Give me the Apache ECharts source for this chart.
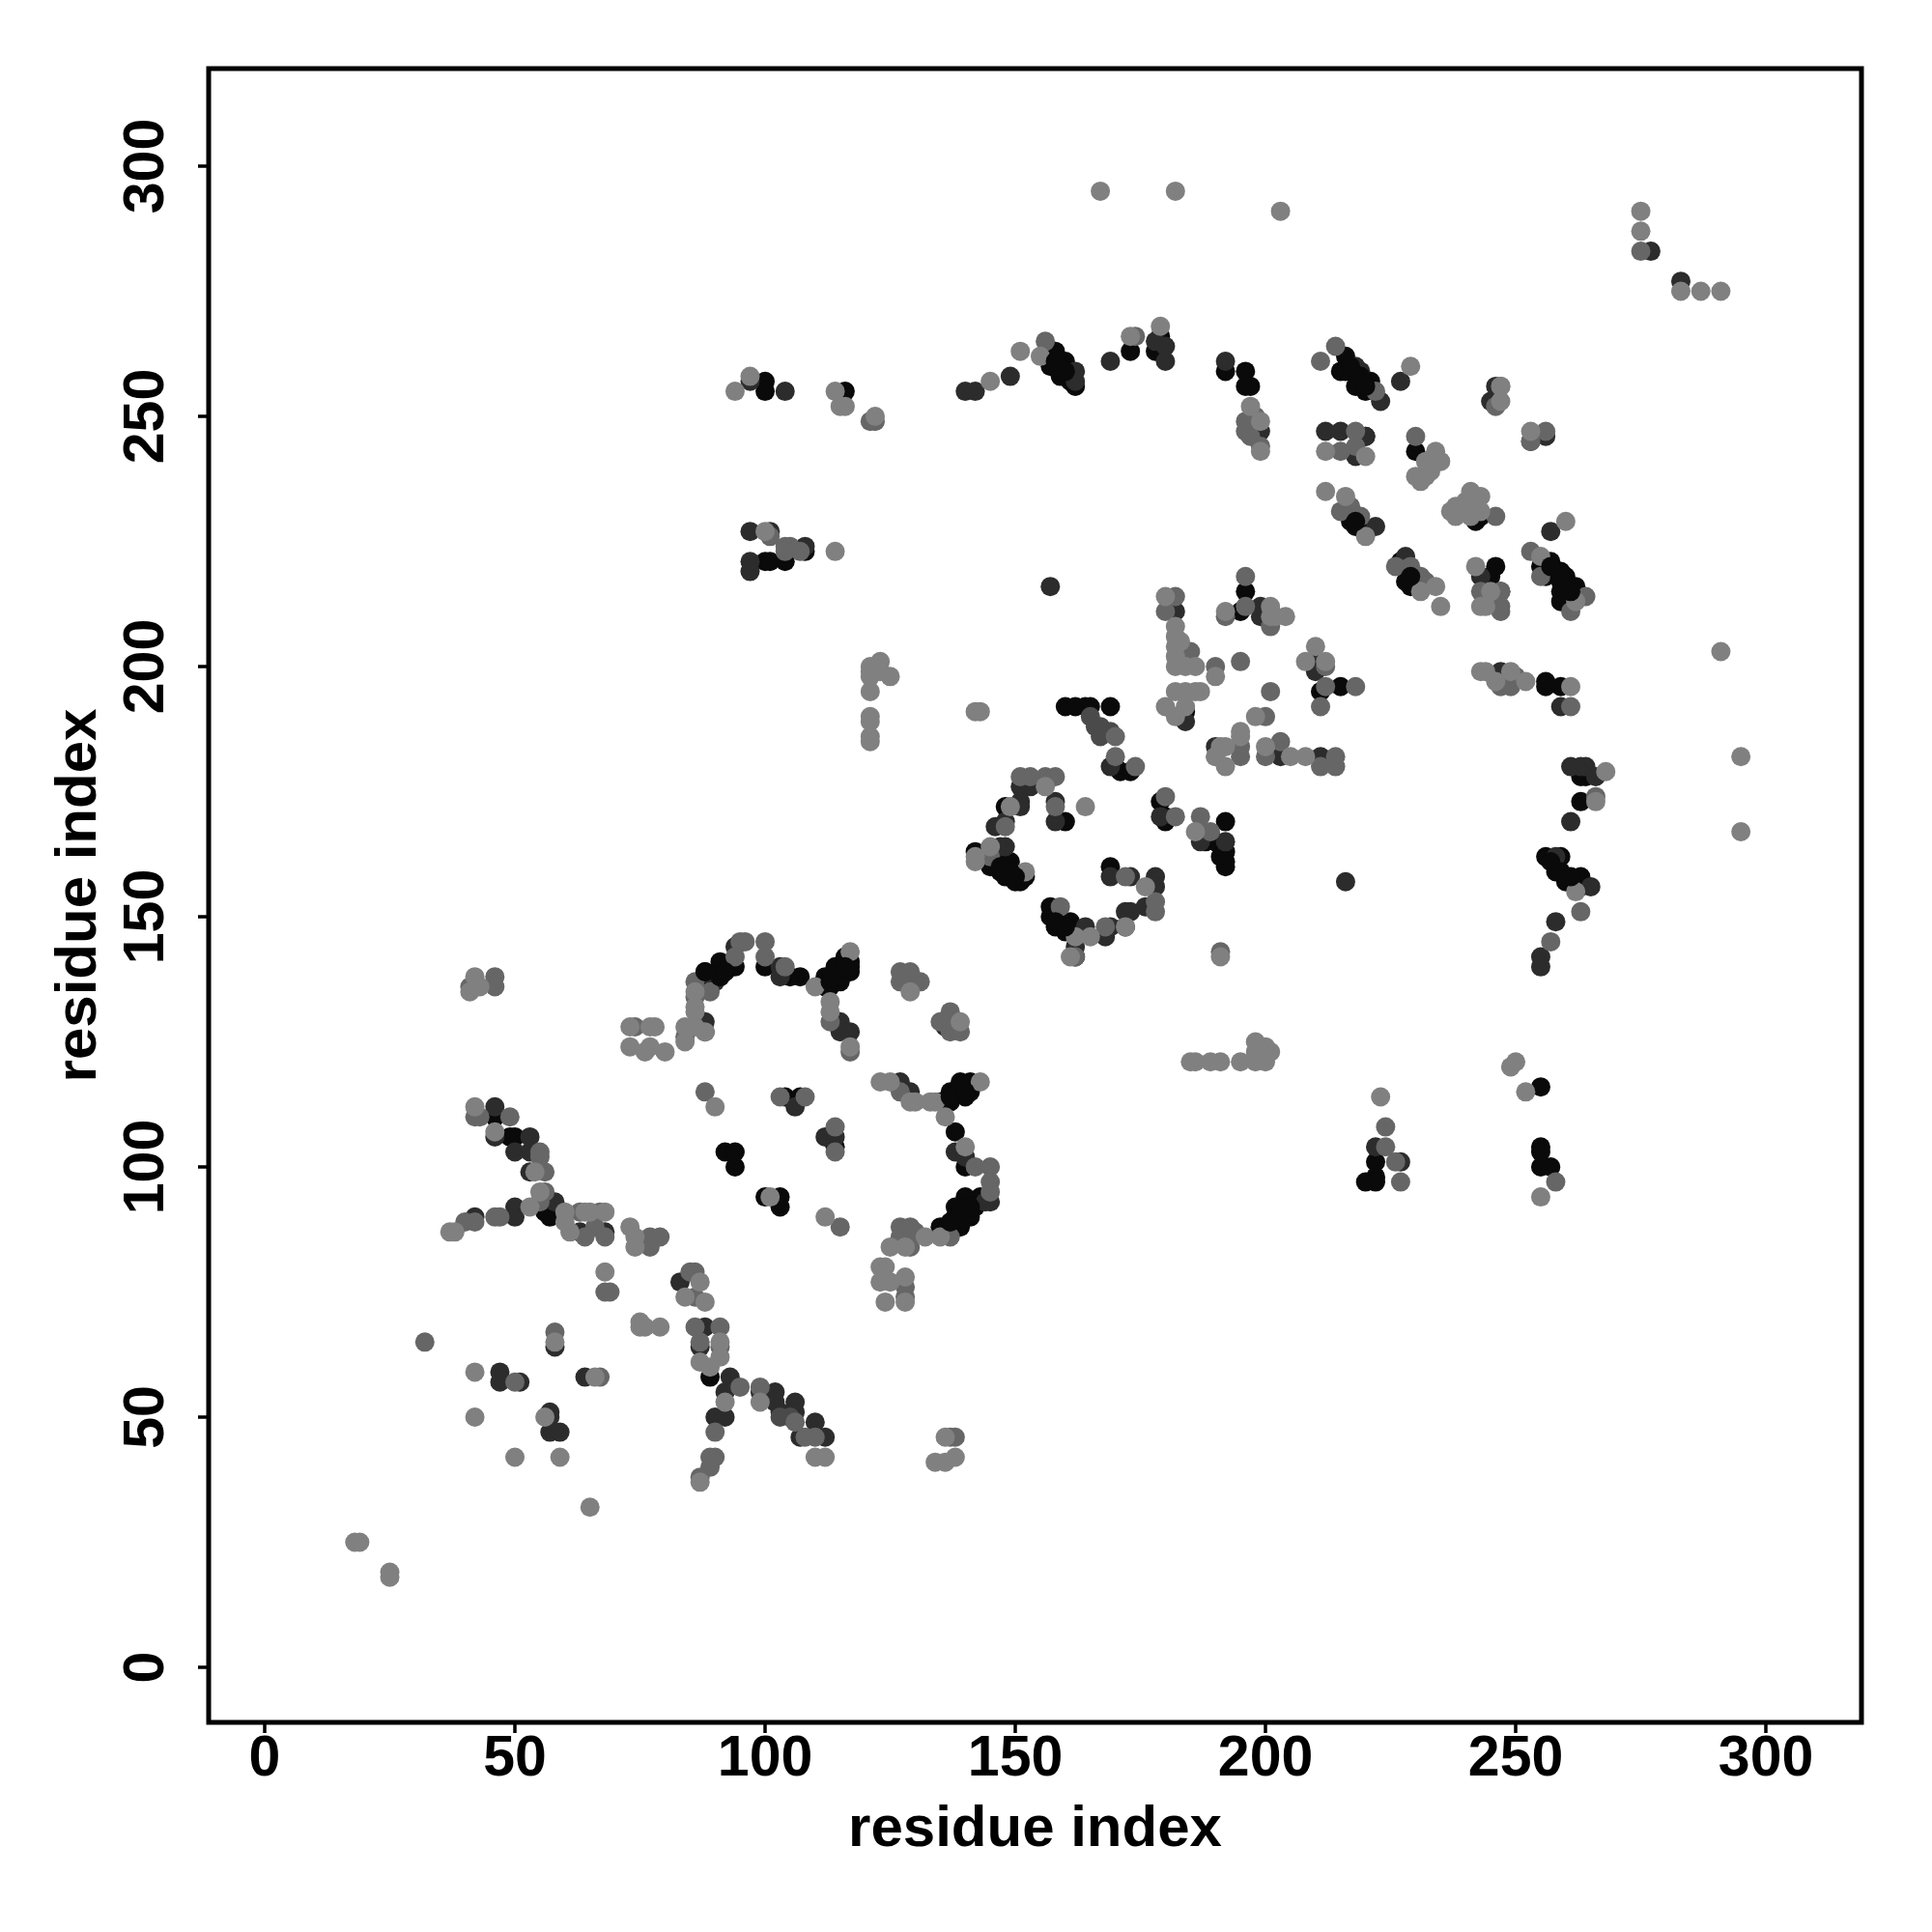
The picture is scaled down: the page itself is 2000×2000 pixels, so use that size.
<!DOCTYPE html>
<html><head><meta charset="utf-8">
<style>html,body{margin:0;padding:0;background:#fff}#c{width:2000px;height:2000px}</style>
<script src="https://cdn.jsdelivr.net/npm/echarts@6/dist/echarts.min.js"></script>
</head><body><div id="c"></div>
<script>
const tickValues=[0,50,100,150,200,250,300];
const axisTitle="residue index";
const lightPts=[[42,138],[41,135],[43,136],[73,128],[77,128],[78,128],[73,124],[76,123],[77,124],[80,123],[84,128],[84,125],[86,132],[86,131],[86,128],[88,127],[86,135],[42,112],[46,107],[54,99],[37,87],[38,87],[53,92],[55,95],[60,91],[60,89],[61,87],[64,91],[65,91],[68,91],[73,88],[74,86],[74,84],[68,79],[87,77],[84,74],[88,73],[79,68],[91,65],[91,62],[87,61],[89,60],[92,53],[87,37],[99,53],[58,65],[42,59],[66,58],[56,50],[42,50],[50,42],[59,42],[65,32],[18,25],[19,25],[25,19],[25,18],[117,143],[110,136],[113,133],[113,131],[117,124],[129,135],[139,129],[123,117],[125,117],[129,113],[130,113],[133,113],[134,113],[143,117],[136,110],[140,104],[135,86],[132,86],[125,84],[128,84],[123,80],[124,80],[123,77],[125,77],[128,78],[124,73],[128,73],[90,112],[101,94],[112,90],[156,176],[149,172],[164,172],[145,164],[142,162],[142,161],[152,159],[162,146],[165,146],[161,142],[172,148],[176,156],[186,167],[191,142],[185,121],[186,121],[189,121],[191,121],[195,121],[198,121],[200,121],[198,125],[200,124],[201,123],[198,123],[200,122],[192,184],[195,186],[190,182],[192,180],[200,184],[205,182],[208,182],[180,214],[182,208],[182,206],[183,205],[182,204],[182,202],[182,200],[184,200],[186,200],[190,198],[182,195],[184,195],[186,195],[187,195],[180,192],[184,192],[182,190],[198,190],[190,182],[191,184],[195,187],[201,212],[204,210],[202,210],[201,210],[210,204],[208,201],[212,201],[192,211],[243,199],[244,199],[249,199],[252,197],[246,197],[261,196],[268,179],[266,173],[262,155],[291,203],[295,182],[295,167],[197,252],[199,249],[199,243],[229,260],[212,243],[220,242],[234,243],[235,241],[232,241],[230,238],[231,237],[233,239],[232,238],[247,256],[247,253],[253,247],[212,235],[216,234],[220,226],[241,235],[243,234],[238,232],[237,231],[240,233],[240,231],[243,231],[238,230],[241,230],[231,215],[234,216],[235,212],[242,220],[245,215],[243,212],[244,212],[260,229],[255,222],[262,213],[94,255],[97,258],[114,255],[115,252],[116,252],[122,250],[145,257],[151,263],[155,262],[173,266],[179,268],[100,227],[114,223],[167,295],[182,295],[203,291],[275,291],[275,287],[283,275],[287,275],[291,275],[121,200],[121,199],[121,198],[123,201],[123,199],[125,198],[121,195],[121,190],[121,189],[121,186],[121,185],[142,191],[143,191],[223,114],[250,121],[249,120],[252,115],[255,94],[134,41],[136,41],[138,42],[136,46],[110,42],[112,42],[75,69],[75,68],[76,68]];
const midPts=[[46,138],[41,136],[46,136],[74,128],[86,134],[43,110],[42,110],[49,110],[55,103],[55,102],[56,99],[40,89],[47,90],[46,90],[42,89],[56,95],[55,93],[63,91],[67,91],[66,88],[64,86],[68,86],[77,86],[79,86],[77,84],[68,75],[69,75],[85,79],[86,79],[86,74],[84,126],[86,68],[91,68],[87,65],[91,64],[95,56],[90,47],[90,42],[89,42],[89,40],[87,38],[99,56],[58,67],[50,57],[67,58],[32,65],[100,145],[96,145],[95,145],[94,142],[86,137],[89,135],[100,142],[104,140],[113,129],[117,123],[127,139],[129,139],[127,137],[129,137],[131,137],[137,131],[135,129],[137,129],[137,127],[139,127],[127,115],[142,100],[145,100],[145,97],[145,95],[137,86],[127,88],[129,88],[127,86],[130,87],[129,84],[128,76],[128,74],[88,115],[103,114],[108,114],[114,108],[114,103],[115,88],[151,178],[153,178],[156,178],[158,178],[158,172],[148,168],[145,162],[159,152],[162,142],[168,148],[178,153],[178,151],[172,158],[170,182],[174,180],[170,186],[180,174],[182,170],[187,170],[189,167],[191,143],[195,184],[195,182],[203,185],[214,182],[211,180],[214,180],[200,182],[182,214],[180,211],[185,203],[190,200],[195,201],[201,195],[200,190],[196,218],[196,212],[201,208],[192,210],[212,200],[212,196],[218,196],[211,192],[247,196],[249,196],[250,198],[266,174],[263,151],[257,145],[261,192],[198,250],[196,247],[199,244],[196,249],[197,246],[211,261],[214,264],[222,255],[218,247],[215,243],[218,244],[230,246],[247,256],[253,245],[256,247],[217,232],[219,230],[215,231],[246,230],[226,220],[229,220],[231,218],[232,217],[243,215],[247,212],[247,211],[253,223],[255,218],[264,214],[261,211],[101,226],[156,265],[174,266],[104,224],[105,224],[104,223],[107,223],[275,283],[224,104],[226,101],[227,97],[258,97],[137,46],[138,46],[110,46],[108,46],[106,49],[224,108],[247,215],[246,252],[122,249],[121,249]];
const darkPts=[[46,112],[46,106],[53,106],[50,103],[53,103],[53,99],[42,90],[50,92],[50,90],[58,93],[63,87],[68,87],[83,77],[88,68],[87,64],[88,129],[88,127],[93,58],[92,55],[90,50],[92,50],[47,59],[47,57],[51,57],[58,64],[64,58],[57,51],[57,50],[57,47],[59,47],[94,144],[90,137],[103,140],[103,138],[115,129],[115,127],[117,127],[127,117],[129,115],[136,128],[138,103],[140,102],[145,93],[144,93],[106,112],[112,106],[114,106],[151,176],[153,176],[151,173],[151,172],[158,173],[158,169],[146,168],[148,169],[147,164],[148,164],[164,148],[162,144],[169,148],[168,146],[172,151],[173,151],[176,152],[178,158],[178,156],[169,158],[173,158],[169,180],[179,170],[187,165],[192,165],[216,157],[190,184],[203,182],[211,182],[182,211],[184,189],[199,212],[199,210],[210,201],[210,199],[247,199],[259,192],[261,180],[263,180],[264,180],[266,178],[261,169],[258,162],[265,156],[258,149],[255,142],[255,140],[192,261],[199,247],[218,260],[219,259],[223,253],[227,257],[212,247],[215,247],[220,246],[218,242],[246,256],[245,253],[253,245],[256,246],[228,222],[222,228],[243,218],[247,215],[257,227],[97,257],[104,255],[140,255],[142,255],[149,258],[162,259],[162,257],[169,261],[178,265],[180,264],[180,261],[97,227],[101,227],[97,221],[97,219],[108,224],[157,216],[277,283],[283,277],[222,104],[227,101],[99,55],[102,55],[102,53],[103,51],[106,53],[106,51],[110,49],[112,46],[107,46]];
const blackPts=[[46,110],[49,106],[50,106],[56,91],[57,90],[89,58],[88,139],[88,137],[91,141],[91,138],[92,139],[94,140],[100,140],[107,138],[105,138],[112,138],[112,136],[114,140],[113,136],[115,137],[115,139],[116,142],[117,141],[117,139],[117,140],[135,113],[137,115],[137,113],[139,117],[139,115],[141,117],[140,114],[141,115],[138,107],[140,100],[140,94],[143,94],[140,92],[142,92],[138,92],[138,90],[141,90],[136,88],[139,88],[135,88],[104,114],[107,114],[114,104],[92,103],[94,103],[94,100],[100,94],[103,94],[103,92],[148,172],[160,169],[142,163],[147,161],[149,161],[147,159],[149,159],[148,158],[151,157],[152,158],[150,157],[145,160],[157,152],[157,150],[158,148],[160,149],[161,149],[160,147],[162,142],[172,148],[169,160],[170,180],[173,179],[171,179],[179,173],[180,170],[180,169],[192,169],[187,167],[188,165],[190,165],[191,162],[192,163],[192,161],[192,160],[160,192],[162,192],[164,192],[165,192],[169,192],[196,215],[195,211],[211,195],[215,196],[184,191],[248,197],[256,197],[256,196],[259,196],[263,178],[264,178],[263,173],[256,162],[259,162],[258,159],[263,158],[260,157],[263,156],[192,259],[196,259],[196,256],[197,256],[216,262],[215,259],[216,259],[218,256],[221,257],[220,255],[220,246],[230,243],[217,229],[218,228],[220,227],[243,230],[242,229],[227,221],[227,220],[228,217],[229,216],[246,220],[245,218],[257,221],[259,219],[260,218],[256,218],[259,215],[262,216],[261,216],[259,213],[255,220],[100,257],[100,255],[116,255],[157,262],[158,263],[157,260],[160,261],[159,258],[162,256],[161,257],[173,263],[178,263],[179,266],[100,221],[101,221],[104,221],[108,223],[255,116],[255,104],[255,100],[257,100],[222,101],[222,98],[220,97],[222,97],[255,103]];
const midDarkPts=[[165,190],[166,188],[167,188],[167,186],[169,187],[105,50],[103,50]];
const topBlackPts=[[88,139],[91,138],[92,139],[114,139],[116,140],[113,137],[137,114],[139,116],[140,115],[139,91],[141,92],[137,89],[147,160],[149,159],[150,158],[158,149],[160,148],[217,260],[219,258],[220,256],[158,261],[160,259],[257,220],[259,217],[261,215],[257,161],[259,159],[261,158],[229,218],[218,229]];
const shades=[["#0a0a0a",blackPts],["#2c2c2c",darkPts],["#4a4a4a",midDarkPts],["#666666",midPts],["#808080",lightPts],["#0a0a0a",topBlackPts]];
const chart=echarts.init(document.getElementById('c'));
const labelFont={color:'#000',fontFamily:'Liberation Sans',fontWeight:'bold',fontSize:59};
const axisCommon={type:'value',splitLine:{show:false},
 axisLine:{show:false,onZero:false},
 axisTick:{show:true,length:11,lineStyle:{color:'#000',width:3.5},customValues:tickValues},
 name:axisTitle,nameLocation:'middle',
 nameTextStyle:{color:'#000',fontFamily:'Liberation Sans',fontWeight:'bold',fontSize:60}};
chart.setOption({animation:false,backgroundColor:'#fff',
 grid:{left:216,top:71,width:1711,height:1712,show:true,borderColor:'#000',borderWidth:5,backgroundColor:'#fff'},
 xAxis:Object.assign({},axisCommon,{position:'bottom',min:-11.2,max:319.1,nameGap:81,
   axisLabel:Object.assign({},labelFont,{customValues:tickValues,margin:9})}),
 yAxis:Object.assign({},axisCommon,{position:'left',min:-11,max:319.5,nameGap:104,
   axisLabel:Object.assign({},labelFont,{customValues:tickValues,rotate:90,margin:63,align:'center',verticalAlign:'middle'})}),
 series:shades.map(s=>({type:'scatter',data:s[1],symbol:'circle',symbolSize:20,itemStyle:{color:s[0],opacity:1},silent:true}))
});
</script></body></html>
